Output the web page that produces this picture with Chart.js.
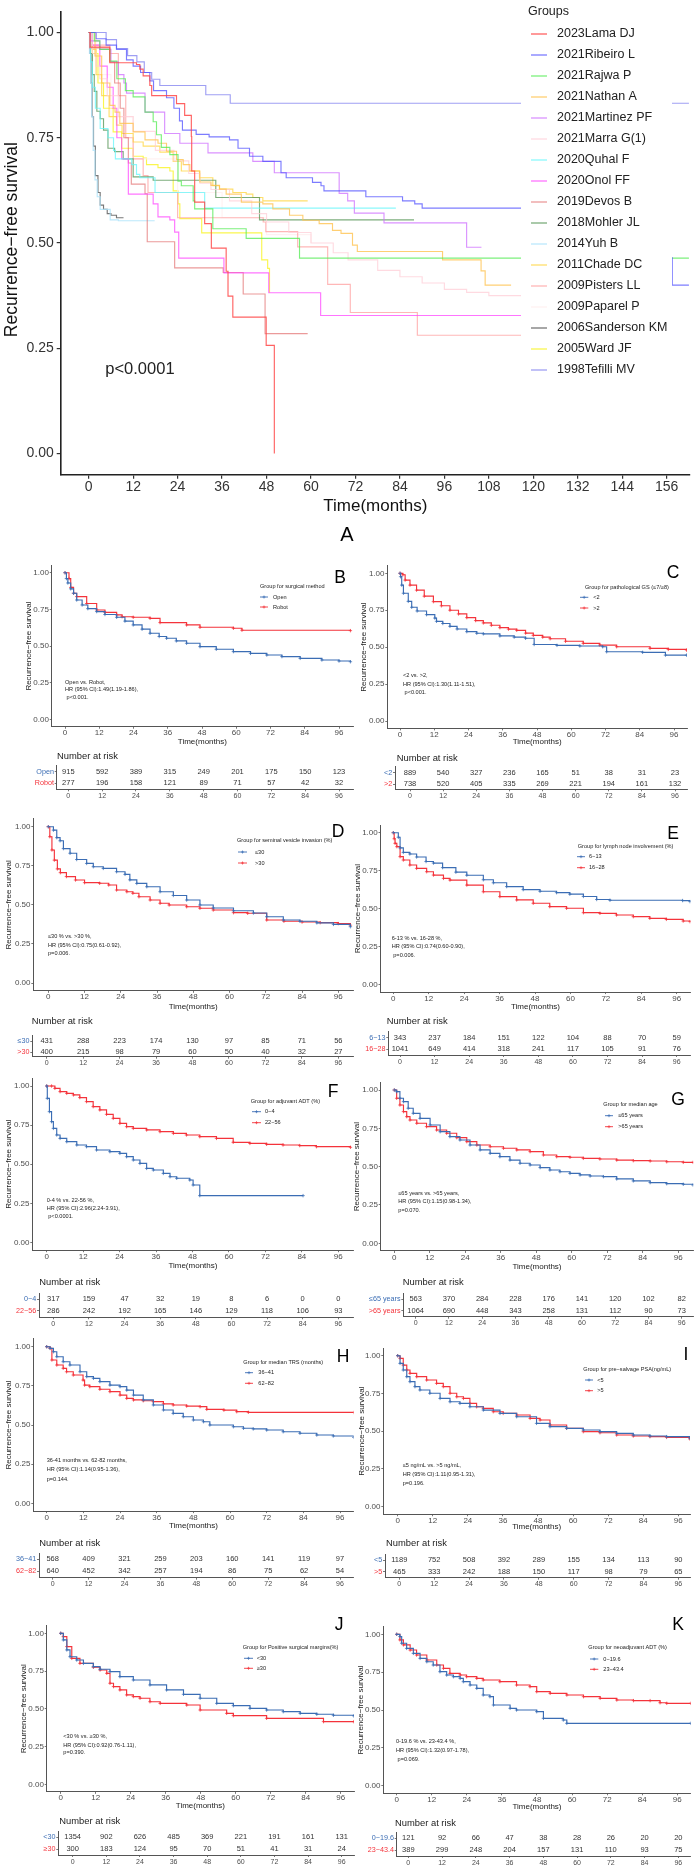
<!DOCTYPE html>
<html><head><meta charset="utf-8">
<script src="https://cdn.jsdelivr.net/npm/chart.js@4.4.1/dist/chart.umd.min.js"></script>
<style>
html,body{margin:0;padding:0;background:#fff;}
#page{position:relative;width:698px;height:1871px;overflow:hidden;background:#fff;}
canvas{position:absolute;}
</style></head><body><div id="page"></div>
<script>
// ---------------- DATA ----------------
const monthTicksA = [0,12,24,36,48,60,72,84,96,108,120,132,144,156];
const monthTicks = [0,12,24,36,48,60,72,84,96];
const survTicks = [0,0.25,0.5,0.75,1];

const studyNames = ['2023Lama DJ','2021Ribeiro L','2021Rajwa P','2021Nathan A','2021Martinez PF','2021Marra G(1)','2020Quhal F','2020Onol FF','2019Devos B','2018Mohler JL','2014Yuh B','2011Chade DC','2009Pisters LL','2009Paparel P','2006Sanderson KM','2005Ward JF','1998Tefilli MV'];
const studyColors = ['rgba(255,70,70,0.85)','rgba(80,80,255,0.75)','rgba(80,235,80,0.75)','rgba(255,195,80,0.8)','rgba(205,110,255,0.75)','rgba(255,205,215,0.75)','rgba(100,245,250,0.75)','rgba(255,70,255,0.75)','rgba(225,100,100,0.65)','rgba(80,145,80,0.75)','rgba(175,228,250,0.85)','rgba(255,215,70,0.8)','rgba(255,165,165,0.8)','rgba(255,238,238,0.8)','rgba(95,95,95,0.85)','rgba(250,245,60,0.9)','rgba(135,135,240,0.8)'];

const lamaDJ = [[0,1],[0.4,0.965],[5.7,0.928],[12.9,0.924],[13.8,0.913],[14.7,0.897],[16.5,0.874],[17,0.85],[23.7,0.831],[25.9,0.803],[27.7,0.753],[27.8,0.671],[28.6,0.597],[31.3,0.546],[33.1,0.488],[37.1,0.433],[37.6,0.374],[38.9,0.324],[47.9,0.257],[50.1,0]];
const ribeiroL = [[0,1],[2,0.985],[4.7,0.97],[7.5,0.96],[10.2,0.935],[12,0.92],[14,0.905],[16.5,0.885],[17.5,0.862],[21,0.845],[23,0.82],[24.5,0.79],[25.3,0.768],[29,0.758],[32.5,0.752],[38,0.745],[40.3,0.725],[43.4,0.706],[47,0.694],[51.9,0.667],[53.3,0.655],[60.4,0.644],[62.7,0.636],[63.5,0.624],[74.8,0.61],[84.7,0.60],[88,0.593],[90,0.583],[128,0.465],[157.5,0.40],[162,0.40]];
const rajwaP = [[0,1],[1.5,0.98],[3,0.96],[5.7,0.932],[7.6,0.89],[9.9,0.862],[12,0.847],[15.2,0.811],[17.4,0.788],[18.3,0.757],[19.6,0.727],[21.9,0.71],[24.1,0.647],[25,0.636],[28.2,0.60],[28.6,0.581],[33.5,0.534],[42.5,0.511],[56.9,0.464],[162,0.464]];
const nathanA = [[0,1],[1.7,0.944],[3.5,0.88],[5.7,0.827],[7.1,0.811],[8.4,0.784],[12,0.764],[15.2,0.745],[18.7,0.737],[21,0.718],[23.7,0.698],[25.5,0.686],[27.3,0.671],[30,0.645],[33,0.637],[35.3,0.628],[37.1,0.616],[41.2,0.597],[47,0.593],[49.7,0.581],[54.2,0.566],[57.8,0.554],[62.2,0.546],[65.8,0.53],[68.1,0.523],[71.2,0.495],[72.5,0.48],[95.5,0.46],[105.9,0.434],[107,0.40],[114,0.40]];
const martinezPF = [[0,1],[0.5,0.98],[3,0.96],[6,0.93],[8,0.90],[9.5,0.88],[10.2,0.856],[15.2,0.811],[20.5,0.76],[24.6,0.737],[32.2,0.714],[44.3,0.694],[50.1,0.667],[67.6,0.618],[69.9,0.60],[71.7,0.571],[79.7,0.548],[102,0.49],[106,0.49]];
const marraG = [[0,1],[1,0.95],[2,0.92],[3,0.89],[5,0.85],[8,0.80],[12,0.765],[18,0.72],[23,0.695],[27,0.665],[30,0.642],[33,0.627],[38,0.60],[44,0.57],[48,0.55],[54,0.525],[60,0.50],[66,0.477],[70,0.46],[78,0.435],[84,0.42],[90,0.405],[96,0.39],[102,0.383],[108,0.375],[120,0.372]];
const quhalF = [[0,1],[0.5,0.93],[1,0.87],[1.8,0.82],[3.1,0.772],[5.2,0.75],[6.7,0.72],[7.2,0.70],[11.6,0.686],[12.9,0.663],[13.8,0.655],[17.9,0.62],[31.3,0.583],[82.9,0.583]];
const onolFF = [[0,1],[1,0.97],[3,0.92],[5,0.87],[6.6,0.82],[7.6,0.75],[8.9,0.70],[10.7,0.616],[17.4,0.593],[18.7,0.562],[21.9,0.555],[23.2,0.526],[24.3,0.464],[36.5,0.429],[48.6,0.382],[62.6,0.328],[120,0.328]];
const devosB = [[0,1],[0.3,0.963],[5.7,0.93],[7,0.88],[8.5,0.82],[9.5,0.75],[10.7,0.69],[11.5,0.64],[15.2,0.617],[15.8,0.503],[23.2,0.441],[36.3,0.43],[41.7,0.379],[47.6,0.285],[59.1,0.285]];
const mohlerJL = [[0,1],[0.5,0.95],[1,0.9],[1.5,0.86],[2.2,0.813],[3.1,0.795],[4,0.768],[5.2,0.725],[7,0.717],[9.3,0.70],[12,0.657],[17.4,0.649],[34.3,0.608],[46.1,0.555],[87.8,0.555]];
const yuhB = [[0,1],[0.2,0.95],[0.5,0.88],[0.8,0.80],[1.2,0.72],[1.7,0.65],[2.3,0.61],[3.1,0.58],[5.8,0.555],[8,0.553],[17.8,0.553]];
const chadeDC = [[0,1],[1,0.96],[2,0.90],[3.5,0.85],[5.5,0.80],[7.5,0.78],[9,0.76],[12,0.74],[14.7,0.73],[19.2,0.716],[22.8,0.694],[25,0.671],[29.9,0.655],[33.5,0.636],[35.3,0.628],[38.9,0.62],[42.5,0.616],[44.3,0.608],[47,0.60],[59.1,0.60]];
const pistersLL = [[0,1],[0.3,0.97],[5.7,0.95],[8,0.85],[10,0.75],[12,0.70],[14.7,0.66],[16,0.62],[24,0.56],[47.1,0.55],[47.8,0.527],[56.4,0.491],[64.5,0.402],[70.6,0.335],[88.7,0.281],[120,0.281]];
const paparelP = [[0,1],[2,0.9],[6,0.8],[12,0.7],[24,0.62],[36,0.56],[48,0.52],[60,0.5]];
const sandersonKM = [[0,1],[0.3,0.95],[0.6,0.88],[0.9,0.80],[1.3,0.73],[1.8,0.66],[2.5,0.62],[3.1,0.59],[4,0.58],[5,0.57],[6,0.566],[7.5,0.56],[9.4,0.56]];
const wardJF = [[0,1],[1,0.95],[2.5,0.88],[4,0.82],[6.6,0.764],[8.9,0.725],[12,0.706],[14.7,0.702],[15.6,0.686],[18.7,0.679],[21.9,0.671],[22.8,0.624],[24.1,0.593],[24.6,0.558],[30.5,0.524],[46.7,0.46],[48.3,0.44],[48.8,0.382]];
const tefilliMV = [[0,1],[4.7,0.983],[7.5,0.962],[10.5,0.945],[13,0.93],[15,0.905],[17,0.889],[19.2,0.874],[31.6,0.852],[38.2,0.832],[162,0.832]];
const studyCurves = [lamaDJ,ribeiroL,rajwaP,nathanA,martinezPF,marraG,quhalF,onolFF,devosB,mohlerJL,yuhB,chadeDC,pistersLL,paparelP,sandersonKM,wardJF,tefilliMV];

// Panel B
const groupsB = ['Open','Robot'];
const survB_open = [[0,1],[0.5,0.96],[1,0.93],[2,0.89],[3,0.86],[4.1,0.814],[6,0.78],[8,0.755],[11.1,0.735],[14,0.715],[18.1,0.696],[21,0.67],[23.9,0.644],[27,0.615],[29.8,0.587],[33,0.565],[35.6,0.553],[39,0.535],[42.6,0.519],[47.3,0.496],[53,0.478],[59,0.462],[65,0.45],[70.7,0.439],[76,0.428],[82.4,0.416],[90,0.405],[96,0.398],[100,0.393]];
const survB_robot = [[0,1],[1.4,0.96],[2,0.9],[3,0.86],[4.1,0.837],[7.6,0.79],[11.1,0.746],[14,0.73],[18.1,0.712],[20,0.70],[23.9,0.696],[29.8,0.689],[33.3,0.66],[42.6,0.644],[47.3,0.628],[59,0.621],[62,0.608],[100,0.605]];
const riskB_open = [915,592,389,315,249,201,175,150,123];
const riskB_robot = [277,196,158,121,89,71,57,42,32];
// Panel C
const groupsC = ['<2','>2'];
const survC_low = [[0,1],[0.2,0.977],[0.6,0.92],[1.2,0.865],[2.9,0.81],[4.1,0.77],[6,0.745],[9.3,0.72],[12.2,0.697],[12.8,0.675],[15,0.66],[17.5,0.641],[20,0.623],[23.4,0.605],[26.9,0.594],[29.2,0.59],[35,0.576],[40,0.568],[44,0.56],[47,0.518],[55,0.512],[63,0.508],[71,0.503],[72.4,0.469],[85,0.465],[93,0.446],[100.4,0.446]];
const survC_high = [[0,1],[1,0.99],[1.8,0.954],[3.5,0.92],[5.8,0.886],[8.5,0.845],[11.7,0.808],[14.5,0.78],[17.5,0.75],[20.5,0.725],[23.4,0.70],[26.5,0.68],[29.2,0.664],[32,0.648],[35,0.632],[38,0.622],[40.9,0.614],[44,0.595],[46.7,0.58],[50,0.568],[52.6,0.557],[58,0.54],[64.2,0.526],[70,0.514],[75.9,0.503],[87.6,0.492],[94,0.485],[100.4,0.48]];
const riskC_low = [889,540,327,236,165,51,38,31,23];
const riskC_high = [738,520,405,335,269,221,194,161,132];
// Panel D
const groupsD = ['≤30','>30'];
const survD_low = [[0,1],[1.7,0.978],[2.8,0.93],[3.9,0.91],[5,0.86],[7.2,0.83],[9.4,0.79],[12.7,0.765],[14.9,0.744],[18.2,0.733],[22.6,0.712],[25.4,0.695],[27,0.66],[29.3,0.637],[32.6,0.616],[37,0.584],[41.4,0.56],[45.8,0.531],[50.2,0.499],[54.6,0.48],[61.3,0.462],[67.9,0.448],[72.3,0.424],[77.8,0.403],[83.3,0.395],[88.9,0.385],[94.4,0.375],[100,0.36]];
const survD_high = [[0,1],[0.5,0.936],[1.2,0.851],[2,0.786],[3,0.73],[4,0.706],[6,0.681],[9,0.659],[12,0.642],[17,0.638],[20,0.627],[22.6,0.595],[26,0.584],[28,0.574],[30,0.552],[33.7,0.531],[37,0.51],[40,0.499],[45.8,0.488],[50.2,0.478],[54.6,0.467],[61.3,0.45],[66,0.446],[72.3,0.403],[78,0.395],[84,0.39],[90,0.386],[96,0.38],[100,0.37]];
const riskD_low = [431,288,223,174,130,97,85,71,56];
const riskD_high = [400,215,98,79,60,50,40,32,27];
// Panel E
const groupsE = ['6−13','16−28'];
const survE_low = [[0,1],[1.7,0.97],[2.3,0.90],[3.4,0.87],[5.6,0.86],[7.9,0.84],[11.1,0.81],[13.6,0.80],[16.7,0.77],[21.2,0.74],[24.9,0.72],[30.5,0.69],[33.9,0.67],[38.4,0.645],[44,0.625],[49.7,0.614],[55.3,0.605],[59.8,0.595],[64.4,0.58],[68.9,0.56],[73.4,0.555],[98,0.553],[100.5,0.546]];
const survE_high = [[0,1],[0.3,0.96],[0.6,0.93],[1.2,0.908],[2.3,0.842],[3.4,0.82],[5.6,0.787],[7.9,0.765],[11.3,0.743],[13.6,0.721],[17,0.699],[19.2,0.688],[24.9,0.655],[30.5,0.611],[36.1,0.579],[41.8,0.557],[47.4,0.535],[53,0.513],[58.7,0.502],[64.4,0.473],[70,0.469],[75.6,0.458],[81.3,0.447],[86.9,0.436],[92.5,0.429],[98.2,0.418],[100.5,0.414]];
const riskE_low = [343,237,184,151,122,104,88,70,59];
const riskE_high = [1041,649,414,318,241,117,105,91,76];
// Panel F
const groupsF = ['0−4','22−56'];
const survF_low = [[0,1],[0.2,0.921],[0.9,0.836],[1.6,0.772],[2.2,0.729],[3.3,0.687],[4.4,0.665],[6.6,0.644],[9.9,0.623],[13.1,0.612],[16.4,0.591],[20.8,0.58],[24.1,0.569],[26.3,0.548],[28.5,0.527],[30.7,0.505],[32.9,0.473],[35.1,0.463],[38.4,0.441],[40.6,0.42],[42.8,0.41],[47.1,0.399],[48.2,0.367],[50.4,0.299],[84.4,0.299]];
const survF_high = [[0,1],[1.6,1.0],[2.7,0.985],[4.4,0.964],[6.6,0.953],[8.8,0.943],[10.9,0.926],[13.1,0.90],[15.3,0.868],[17.5,0.847],[19.7,0.819],[21.9,0.793],[24.1,0.761],[26.3,0.74],[28.5,0.729],[32.9,0.719],[37.3,0.708],[41.7,0.697],[46,0.687],[50.4,0.676],[55.9,0.665],[61.4,0.64],[66.9,0.633],[72.4,0.627],[77.8,0.623],[83.3,0.619],[88.8,0.612],[100,0.608]];
const riskF_low = [317,159,47,32,19,8,6,0,0];
const riskF_high = [286,242,192,165,146,129,118,106,93];
// Panel G
const groupsG = ['≤65 years','>65 years'];
const survG_low = [[0,1],[0.8,0.989],[1.9,0.946],[3.1,0.924],[4.7,0.881],[6.4,0.848],[8.7,0.815],[12.1,0.772],[15.5,0.728],[18.8,0.696],[22.2,0.674],[25.6,0.641],[29,0.609],[32.4,0.587],[35.7,0.565],[39.1,0.543],[42.5,0.522],[45.9,0.511],[49.3,0.494],[52.6,0.478],[56,0.467],[59.4,0.456],[62.8,0.446],[66.2,0.439],[70.7,0.435],[75.2,0.42],[80.8,0.407],[86.5,0.396],[92.1,0.389],[97.7,0.385],[101,0.38]];
const survG_high = [[0,1],[0.8,0.946],[1.9,0.902],[3.1,0.859],[4.2,0.826],[5.3,0.804],[7.6,0.783],[10.9,0.761],[14.3,0.739],[17.7,0.718],[21.1,0.689],[24.5,0.663],[27.9,0.641],[32.4,0.63],[36.9,0.62],[41.4,0.609],[45.9,0.598],[50.4,0.576],[54.9,0.565],[59.4,0.561],[63.9,0.554],[69.5,0.55],[75.2,0.543],[80.8,0.539],[86.5,0.537],[92.1,0.532],[97.7,0.528],[101,0.528]];
const riskG_low = [563,370,284,228,176,141,120,102,82];
const riskG_high = [1064,690,448,343,258,131,112,90,73];
// Panel H
const groupsH = ['36−41','62−82'];
const survH_low = [[0,1],[1.1,0.989],[2.2,0.968],[3.3,0.936],[5.4,0.904],[7.6,0.883],[10.9,0.84],[13.1,0.809],[15.3,0.798],[17.4,0.777],[20.7,0.755],[24,0.745],[26.2,0.723],[28.4,0.691],[31.6,0.66],[34.9,0.628],[38.2,0.596],[41.4,0.574],[44.7,0.553],[48,0.532],[51.3,0.521],[53.4,0.5],[61.1,0.489],[64.4,0.479],[67.6,0.475],[72,0.468],[77.4,0.457],[82.9,0.447],[88.4,0.436],[93.8,0.43],[100.5,0.421]];
const survH_high = [[0,1],[1.1,0.99],[1.7,0.915],[3.3,0.883],[5.4,0.862],[6.5,0.84],[8.7,0.819],[11.9,0.787],[12.4,0.755],[14.1,0.745],[17.4,0.728],[20.7,0.713],[24,0.691],[26.2,0.67],[28.4,0.66],[31.6,0.655],[34.9,0.649],[38.2,0.635],[41.4,0.628],[45.8,0.621],[50.2,0.617],[52.4,0.60],[58,0.595],[62.2,0.585],[66,0.581],[100.5,0.58]];
const riskH_low = [568,409,321,259,203,160,141,119,97];
const riskH_high = [640,452,342,257,194,86,75,62,54];
// Panel I
const groupsI = ['<5','>5'];
const survI_low = [[0,1],[0.8,0.949],[1.9,0.905],[3.1,0.861],[4.2,0.828],[5.9,0.795],[7.6,0.773],[11,0.751],[14.5,0.717],[17.9,0.695],[21.3,0.684],[24.7,0.662],[29.3,0.64],[35,0.618],[40.7,0.596],[47.5,0.552],[52.1,0.53],[57.8,0.519],[63.5,0.508],[69.2,0.497],[74.9,0.486],[80.6,0.475],[86.3,0.468],[92,0.464],[100,0.453]];
const survI_high = [[0,1],[0.8,0.982],[1.9,0.938],[3.1,0.905],[4.2,0.883],[6.5,0.861],[9.9,0.839],[13.3,0.817],[15.6,0.795],[17.9,0.751],[20.2,0.728],[22.5,0.717],[24.7,0.684],[27,0.662],[29.3,0.651],[32.7,0.629],[36.1,0.618],[40.7,0.607],[45.3,0.585],[48.7,0.574],[52.1,0.541],[57.8,0.519],[63.5,0.497],[69.2,0.49],[74.9,0.475],[80.6,0.468],[86.3,0.464],[92,0.459],[100,0.448]];
const riskI_low = [1189,752,508,392,289,155,134,113,90];
const riskI_high = [465,333,242,188,150,117,98,79,65];
// Panel J
const groupsJ = ['<30','≥30'];
const survJ_low = [[0,1],[0.9,0.956],[2.1,0.89],[3.2,0.845],[5.5,0.823],[7.8,0.801],[11.2,0.779],[13.5,0.762],[16.9,0.746],[20.3,0.713],[24.9,0.691],[30.6,0.658],[36.3,0.625],[42.1,0.596],[47.8,0.57],[53.5,0.536],[59.2,0.521],[64.9,0.503],[70.6,0.492],[76.3,0.481],[82.1,0.47],[87.8,0.464],[93.5,0.457],[100.5,0.453]];
const survJ_high = [[0,1],[0.9,0.978],[2.1,0.912],[3.8,0.834],[6.6,0.801],[11.2,0.775],[13.5,0.757],[15.8,0.735],[16.9,0.669],[18.1,0.647],[20.3,0.625],[22.6,0.592],[24.9,0.581],[27.2,0.57],[30.6,0.547],[34.1,0.536],[43.2,0.525],[47.8,0.492],[56.9,0.47],[59.2,0.455],[70.6,0.437],[90.1,0.415],[100.5,0.415]];
const riskJ_low = [1354,902,626,485,369,221,191,161,131];
const riskJ_high = [300,183,124,95,70,51,41,31,24];
// Panel K
const groupsK = ['0−19.6','23−43.4'];
const survK_low = [[0,1],[1.1,0.985],[1.7,0.941],[3.4,0.907],[5.7,0.874],[8,0.841],[10.3,0.819],[12.5,0.797],[14.8,0.753],[17.1,0.731],[19.4,0.72],[21.7,0.709],[22.8,0.687],[25.1,0.665],[27.4,0.643],[29.6,0.599],[31.9,0.588],[33.1,0.533],[38.8,0.511],[41,0.5],[47.9,0.489],[50.2,0.445],[57,0.434],[58.2,0.412],[100.6,0.412]];
const survK_high = [[0,1],[1.1,0.963],[2.3,0.93],[4.6,0.896],[6.8,0.863],[10.3,0.83],[13.7,0.797],[16,0.775],[18.2,0.742],[21.7,0.731],[23.9,0.72],[27.4,0.709],[29.6,0.698],[35.3,0.687],[41,0.665],[45.6,0.654],[47.9,0.621],[52.5,0.61],[58.2,0.599],[63.9,0.588],[69.6,0.577],[75.3,0.566],[81,0.562],[86.7,0.562],[90.1,0.548],[92.4,0.544],[100.6,0.544]];
const riskK_low = [121,92,66,47,38,28,26,20,20];
const riskK_high = [389,299,248,204,157,131,110,93,75];

// ---------------- RENDER ----------------
const FONT = '"Liberation Sans", Arial, Helvetica, sans-serif';
Chart.defaults.font.family = FONT;
Chart.defaults.animation = false;
const BLUE = '#3b6db4', RED = '#f4333b';
const page = document.getElementById('page');

function addCanvas(x, y, w, h) {
  const c = document.createElement('canvas');
  c.width = w; c.height = h;
  c.style.left = x + 'px'; c.style.top = y + 'px';
  c.style.width = w + 'px'; c.style.height = h + 'px';
  page.appendChild(c);
  return c;
}
function txt(ctx, s, x, y, size, color, align, rot) {
  ctx.save();
  ctx.font = size + 'px ' + FONT;
  ctx.fillStyle = color; ctx.textAlign = align || 'left'; ctx.textBaseline = 'middle';
  ctx.translate(x, y); if (rot) ctx.rotate(rot);
  ctx.fillText(s, 0, 0);
  ctx.restore();
}
function cross(ctx, x, y, r, color, lw) {
  ctx.save(); ctx.strokeStyle = color; ctx.lineWidth = lw;
  ctx.beginPath(); ctx.moveTo(x - r, y); ctx.lineTo(x + r, y); ctx.moveTo(x, y - r); ctx.lineTo(x, y + r); ctx.stroke();
  ctx.restore();
}
function toXY(arr) { return arr.map(([t, s]) => ({x: t, y: s})); }

// ---------- Panel A ----------
(function () {
  const L = 60.7, R = 690, x0 = 88.7, x156 = 666.7, y1 = 26, y0 = 453.3;
  const kx = (x156 - x0) / 156, ky = y0 - y1;
  const xmin = (L - x0) / kx, xmax = (R - x0) / kx;
  const T = y0 - 1.05 * ky, Bm = y0 + 0.05 * ky;
  const W = 698, H = 522;
  const cv = addCanvas(0, 0, W, H);
  const datasets = studyCurves.map((c, i) => ({
    label: studyNames[i], data: toXY(c), borderColor: studyColors[i], backgroundColor: studyColors[i],
    borderWidth: 1.15, stepped: 'before', pointRadius: 0, fill: false
  }));
  const ov = {
    id: 'overlayA',
    afterDatasetsDraw(chart) {
      const c = chart.ctx;
      c.save(); c.fillStyle = '#fff'; c.fillRect(521, 0, 151, 388); c.restore();
      txt(c, 'Groups', 528, 12, 12.5, '#222', 'left');
      chart.data.datasets.forEach((d, i) => {
        const y = 34 + 21 * i;
        c.save(); c.strokeStyle = d.borderColor; c.lineWidth = 1.3;
        c.beginPath(); c.moveTo(531, y); c.lineTo(547, y); c.stroke(); c.restore();
        txt(c, d.label, 557, y, 12.5, '#222', 'left');
      });
    },
    afterDraw(chart) {
      const c = chart.ctx;
      txt(c, 'Recurrence−free survival', 12.5, (T + Bm) / 2, 17.5, '#111', 'center', -Math.PI / 2);
      txt(c, 'Time(months)', (L + R) / 2, 506, 17, '#111', 'center');
      txt(c, 'p<0.0001', 105.3, 369, 16.5, '#222', 'left');
    }
  };
  new Chart(cv, {
    type: 'line', data: {datasets},
    options: {
      responsive: false, animation: false, events: [],
      layout: {padding: {left: 0, top: T, right: W - R, bottom: 0}},
      plugins: {legend: {display: false}, tooltip: {enabled: false}},
      scales: {
        x: {type: 'linear', min: xmin, max: xmax,
          afterFit(s) { s.height = H - Bm; },
          afterBuildTicks(s) { s.ticks = monthTicksA.map(v => ({value: v})); },
          ticks: {font: {size: 14, lineHeight: 1.2}, color: '#333', padding: 0.3, maxRotation: 0, autoSkip: false, callback: v => String(v)},
          grid: {drawOnChartArea: false, drawTicks: true, tickLength: 4, color: '#333', lineWidth: 1.2},
          border: {display: true, color: '#222', width: 1.6}},
        y: {type: 'linear', min: -0.05, max: 1.05,
          afterFit(s) { s.width = L; },
          afterBuildTicks(s) { s.ticks = survTicks.map(v => ({value: v})); },
          ticks: {font: {size: 14}, color: '#333', padding: 3, callback: v => Number(v).toFixed(2)},
          grid: {drawOnChartArea: false, drawTicks: true, tickLength: 4, color: '#333', lineWidth: 1.2},
          border: {display: true, color: '#222', width: 1.6}}
      }
    },
    plugins: [ov]
  });
})();

// ---------- Panels B-K ----------
const panels = [
  {letter:'B', names:groupsB, series:[survB_open, survB_robot], risk:[riskB_open, riskB_robot], legTitle:'Group for surgical method',
   hr:['Open vs. Robot,','HR (95% CI):1.49(1.19-1.86),',' p<0.001.'],
   L:51.7, R:353, x0:65, x96:339, y1:572.7, y0:719.4, yTitleX:29, xTitleY:742, letterXY:[340,578], legTitleXY:[260,586], legY:[597,607], legLine:[260,268], legTextX:273, hrX:65, hrY:[682,689.3,697],
   table:{Lt:56.7,x0:68.3,x96:339,r1:771.7,r2:783.3,yA:789.3,nar:[57,756.7],R:353}},
  {letter:'C', names:groupsC, series:[survC_low, survC_high], risk:[riskC_low, riskC_high], legTitle:'Group for pathological GS (≤7/≥8)',
   hr:['<2 vs. >2,','HR (95% CI):1.30(1.11-1.51),',' p<0.001.'],
   L:387.3, R:687, x0:400, x96:674, y1:573.3, y0:721, yTitleX:364, xTitleY:742, letterXY:[673,573], legTitleXY:[585,587], legY:[597.3,608], legLine:[580,588.3], legTextX:593.3, hrX:403, hrY:[675,684,692.3],
   table:{Lt:395,x0:410,x96:675,r1:772.7,r2:784.3,yA:789.3,nar:[396.7,758],R:687}},
  {letter:'D', names:groupsD, series:[survD_low, survD_high], risk:[riskD_low, riskD_high], legTitle:'Group for seminal vesicle invasion (%)',
   hr:['≤30 % vs. >30 %,','HR (95% CI):0.75(0.61-0.92),','p=0.006.'],
   L:33.3, R:353, x0:48.3, x96:338.3, y1:826.7, y0:983, yTitleX:8.3, xTitleY:1006.7, letterXY:[338,831.7], legTitleXY:[237,840.7], legY:[852,863], legLine:[238,247], legTextX:255, hrX:48, hrY:[936.7,945,953.3],
   table:{Lt:32.3,x0:46.7,x96:338.3,r1:1041,r2:1052.3,yA:1056.7,nar:[31.7,1021.7],R:353}},
  {letter:'E', names:groupsE, series:[survE_low, survE_high], risk:[riskE_low, riskE_high], legTitle:'Group for lymph node involvement (%)',
   hr:['6-13 % vs. 16-28 %,','HR (95% CI):0.74(0.60-0.90),',' p=0.006.'],
   L:380.5, R:690.5, x0:393.3, x96:676.7, y1:832.7, y0:984.5, yTitleX:357.5, xTitleY:1006.7, letterXY:[673,834], legTitleXY:[577.7,846], legY:[856.7,867.7], legLine:[577,585], legTextX:589, hrX:391.7, hrY:[938.3,946.7,955],
   table:{Lt:388.3,x0:400,x96:676.7,r1:1037.7,r2:1049.3,yA:1055,nar:[386.7,1021.7],R:690.5}},
  {letter:'F', names:groupsF, series:[survF_low, survF_high], risk:[riskF_low, riskF_high], legTitle:'Group for adjuvant ADT (%)',
   hr:['0-4 % vs. 22-56 %,','HR (95% CI):2.96(2.24-3.91),',' p<0.0001.'],
   L:32.3, R:353.5, x0:46.7, x96:338.3, y1:1086, y0:1242.4, yTitleX:8.3, xTitleY:1266, letterXY:[333,1091.7], legTitleXY:[250.7,1101], legY:[1111.7,1122.7], legLine:[252,261], legTextX:265, hrX:46.7, hrY:[1200,1208.3,1216.7],
   table:{Lt:39,x0:53.3,x96:338.3,r1:1299.3,r2:1310.7,yA:1317.3,nar:[39.3,1282.7],R:353.5}},
  {letter:'G', names:groupsG, series:[survG_low, survG_high], risk:[riskG_low, riskG_high], legTitle:'Group for median age',
   hr:['≤65 years vs. >65 years,','HR (95% CI):1.15(0.98-1.34),','p=0.070.'],
   L:380.7, R:693.3, x0:394.3, x96:678.3, y1:1090, y0:1243.3, yTitleX:356.7, xTitleY:1266.7, letterXY:[678,1100], legTitleXY:[603.3,1104.3], legY:[1115.7,1126.7], legLine:[605,613], legTextX:618.3, hrX:398.3, hrY:[1193.3,1201.7,1210],
   table:{Lt:403.3,x0:415.7,x96:681.7,r1:1299.3,r2:1310.7,yA:1316.7,nar:[402.7,1282.7],R:693.3}},
  {letter:'H', names:groupsH, series:[survH_low, survH_high], risk:[riskH_low, riskH_high], legTitle:'Group for median TRS (months)',
   hr:['36-41 months vs. 62-82 months,','HR (95% CI):1.14(0.95-1.36),','p=0.144.'],
   L:33.3, R:353.5, x0:46.7, x96:340, y1:1346.7, y0:1503.3, yTitleX:8.3, xTitleY:1526, letterXY:[343,1356.7], legTitleXY:[243.3,1362.7], legY:[1372.7,1383.3], legLine:[245,253], legTextX:258.3, hrX:46.7, hrY:[1460,1469.3,1479.3],
   table:{Lt:39,x0:52.7,x96:340,r1:1559.3,r2:1571,yA:1577.7,nar:[39.3,1543.3],R:353.5}},
  {letter:'I', names:groupsI, series:[survI_low, survI_high], risk:[riskI_low, riskI_high], legTitle:'Group for pre−salvage PSA(ng/mL)',
   hr:['≤5 ng/mL vs. >5 ng/mL,','HR (95% CI):1.11(0.95-1.31),','p=0.196.'],
   L:383.3, R:690, x0:397.7, x96:678.3, y1:1355.7, y0:1506.7, yTitleX:361.7, xTitleY:1526.7, letterXY:[686,1355], legTitleXY:[583.3,1369.3], legY:[1380,1390.7], legLine:[585,593], legTextX:597.3, hrX:402.7, hrY:[1465,1474.3,1483.3],
   table:{Lt:385,x0:399.3,x96:678.3,r1:1560,r2:1571.7,yA:1577.7,nar:[386,1543.3],R:690}},
  {letter:'J', names:groupsJ, series:[survJ_low, survJ_high], risk:[riskJ_low, riskJ_high], legTitle:'Group for Positive surgical margins(%)',
   hr:['<30 % vs. ≥30 %,','HR (95% CI):0.92(0.76-1.11),','p=0.390.'],
   L:46.7, R:354, x0:60.7, x96:340.7, y1:1633.3, y0:1784.3, yTitleX:24, xTitleY:1806, letterXY:[339,1625], legTitleXY:[242.7,1647.3], legY:[1658.3,1668.3], legLine:[244,253], legTextX:256.7, hrX:63.3, hrY:[1736.7,1745,1752.7],
   table:{Lt:58.3,x0:72.7,x96:341.7,r1:1837.3,r2:1849,yA:1855,nar:[59.3,1821.7],R:354}},
  {letter:'K', names:groupsK, series:[survK_low, survK_high], risk:[riskK_low, riskK_high], legTitle:'Group for neoadjuvant ADT (%)',
   hr:['0-19.6 % vs. 23-43.4 %,','HR (95% CI):1.32(0.97-1.78),',' p=0.069.'],
   L:383.3, R:690.7, x0:396.7, x96:677.3, y1:1634.3, y0:1785.7, yTitleX:360.7, xTitleY:1806.7, letterXY:[678,1625], legTitleXY:[588.3,1647.7], legY:[1659,1669.3], legLine:[590,598.3], legTextX:603.3, hrX:396, hrY:[1741,1750,1759.3],
   table:{Lt:396.7,x0:408.3,x96:678.3,r1:1838.3,r2:1850,yA:1856,nar:[395,1823.3],R:690.7}}
];
const groupColors = [BLUE, RED];
const TICK_C = '#4d4d4d', AXIS_C = '#555';

function kmPanel(p) {
  const kx = (p.x96 - p.x0) / 96, ky = p.y0 - p.y1;
  const xmin = (p.L - p.x0) / kx, xmax = (p.R - p.x0) / kx;
  const T = p.y0 - 1.05 * ky, Bm = p.y0 + 0.05 * ky;
  const cl = Math.max(0, Math.floor(Math.min(p.L - 42, p.yTitleX - 8)));
  const ct = Math.floor(T - 16), cr = Math.min(698, Math.ceil(p.R + 6)), cb = Math.ceil(Bm + 22);
  const cv = addCanvas(cl, ct, cr - cl, cb - ct);
  const datasets = p.series.map((s, k) => ({
    label: p.names[k], data: toXY(s), borderColor: groupColors[k], backgroundColor: groupColors[k],
    borderWidth: 1.15, stepped: 'before', pointStyle: 'cross', pointRadius: 1.7, pointBorderWidth: 0.75, fill: false
  }));
  const ov = {
    id: 'overlayKM',
    afterDraw(chart) {
      const c = chart.ctx;
      c.save(); c.translate(-cl, -ct);
      txt(c, 'Recurrence−free survival', p.yTitleX, (T + Bm) / 2, 8, '#222', 'center', -Math.PI / 2);
      txt(c, 'Time(months)', (p.L + p.R) / 2, p.xTitleY, 8, '#222', 'center');
      txt(c, p.letter, p.letterXY[0], p.letterXY[1], 17.5, '#000', 'center');
      txt(c, p.legTitle, p.legTitleXY[0], p.legTitleXY[1], 5.6, '#222', 'left');
      chart.data.datasets.forEach((d, i) => {
        const y = p.legY[i];
        c.save(); c.strokeStyle = d.borderColor; c.lineWidth = 0.9;
        c.beginPath(); c.moveTo(p.legLine[0], y); c.lineTo(p.legLine[1], y); c.stroke(); c.restore();
        cross(c, (p.legLine[0] + p.legLine[1]) / 2, y, 1.5, d.borderColor, 0.7);
        txt(c, d.label, p.legTextX, y, 5.6, '#222', 'left');
      });
      p.hr.forEach((s, i) => txt(c, s, p.hrX, p.hrY[i], 5.6, '#222', 'left'));
      c.restore();
    }
  };
  new Chart(cv, {
    type: 'line', data: {datasets},
    options: {
      responsive: false, animation: false, events: [],
      layout: {padding: {left: 0, top: T - ct, right: cr - p.R, bottom: 0}},
      plugins: {legend: {display: false}, tooltip: {enabled: false}},
      scales: {
        x: {type: 'linear', min: xmin, max: xmax,
          afterFit(s) { s.height = cb - Bm; },
          afterBuildTicks(s) { s.ticks = monthTicks.map(v => ({value: v})); },
          ticks: {font: {size: 8, lineHeight: 1.1}, color: TICK_C, padding: 0, maxRotation: 0, autoSkip: false, callback: v => String(v)},
          grid: {drawOnChartArea: false, drawTicks: true, tickLength: 2, color: AXIS_C, lineWidth: 0.8},
          border: {display: true, color: AXIS_C, width: 1}},
        y: {type: 'linear', min: -0.05, max: 1.05,
          afterFit(s) { s.width = p.L - cl; },
          afterBuildTicks(s) { s.ticks = survTicks.map(v => ({value: v})); },
          ticks: {font: {size: 8}, color: TICK_C, padding: 0.8, callback: v => Number(v).toFixed(2)},
          grid: {drawOnChartArea: false, drawTicks: true, tickLength: 2, color: AXIS_C, lineWidth: 0.8},
          border: {display: true, color: AXIS_C, width: 1}}
      }
    },
    plugins: [ov]
  });
}

function riskPanel(p) {
  const t = p.table;
  const kx = (t.x96 - t.x0) / 96;
  const xmin = (t.Lt - t.x0) / kx, xmax = (t.R - t.x0) / kx;
  const rh = t.r2 - t.r1;
  const ymin = 1 - (t.yA - t.r2) / rh, ymax = 2 + 6 / rh;
  const top = t.r1 - 6;
  const cl = Math.max(0, Math.floor(t.Lt - 48));
  const ct = Math.floor(t.nar[1] - 8), cr = Math.min(698, Math.ceil(t.R + 6)), cb = Math.min(1871, Math.ceil(t.yA + 14));
  const cv = addCanvas(cl, ct, cr - cl, cb - ct);
  const datasets = [0, 1].map(k => ({
    label: p.names[k],
    data: monthTicks.map((m, i) => ({x: m, y: 2 - k, n: p.risk[k][i]})),
    pointRadius: 0, showLine: false, borderColor: groupColors[k], backgroundColor: groupColors[k]
  }));
  const ov = {
    id: 'overlayRisk',
    afterDatasetsDraw(chart) {
      const c = chart.ctx;
      txt(c, 'Number at risk', t.nar[0] - cl, t.nar[1] - ct, 9.4, '#222', 'left');
      chart.data.datasets.forEach((d, k) => {
        const meta = chart.getDatasetMeta(k);
        meta.data.forEach((el, i) => txt(c, String(d.data[i].n), el.x, el.y, 7.5, '#333', 'center'));
      });
    }
  };
  new Chart(cv, {
    type: 'scatter', data: {datasets},
    options: {
      responsive: false, animation: false, events: [],
      layout: {padding: {left: 0, top: top - ct, right: cr - t.R, bottom: 0}},
      plugins: {legend: {display: false}, tooltip: {enabled: false}},
      scales: {
        x: {type: 'linear', min: xmin, max: xmax,
          afterFit(s) { s.height = cb - t.yA; },
          afterBuildTicks(s) { s.ticks = monthTicks.map(v => ({value: v})); },
          ticks: {font: {size: 7, lineHeight: 1.1}, color: TICK_C, padding: 0.8, maxRotation: 0, autoSkip: false, callback: v => String(v)},
          grid: {drawOnChartArea: false, drawTicks: true, tickLength: 2, color: AXIS_C, lineWidth: 0.8},
          border: {display: true, color: AXIS_C, width: 1}},
        y: {type: 'linear', min: ymin, max: ymax,
          afterFit(s) { s.width = t.Lt - cl; },
          afterBuildTicks(s) { s.ticks = [{value: 1}, {value: 2}]; },
          ticks: {font: {size: 7.2}, padding: 0.8, autoSkip: false,
            color: ctx => (ctx.tick && ctx.tick.value === 2) ? BLUE : RED,
            callback: v => (v === 2 ? p.names[0] : p.names[1])},
          grid: {drawOnChartArea: false, drawTicks: true, tickLength: 2, color: AXIS_C, lineWidth: 0.8},
          border: {display: true, color: AXIS_C, width: 1}}
      }
    },
    plugins: [ov]
  });
}

panels.forEach(p => { kmPanel(p); riskPanel(p); });

// Panel label "A"
(function () {
  const cv = addCanvas(330, 522, 40, 26);
  const c = cv.getContext('2d');
  txt(c, 'A', 17, 13, 20, '#000', 'center');
})();
</script></body></html>
